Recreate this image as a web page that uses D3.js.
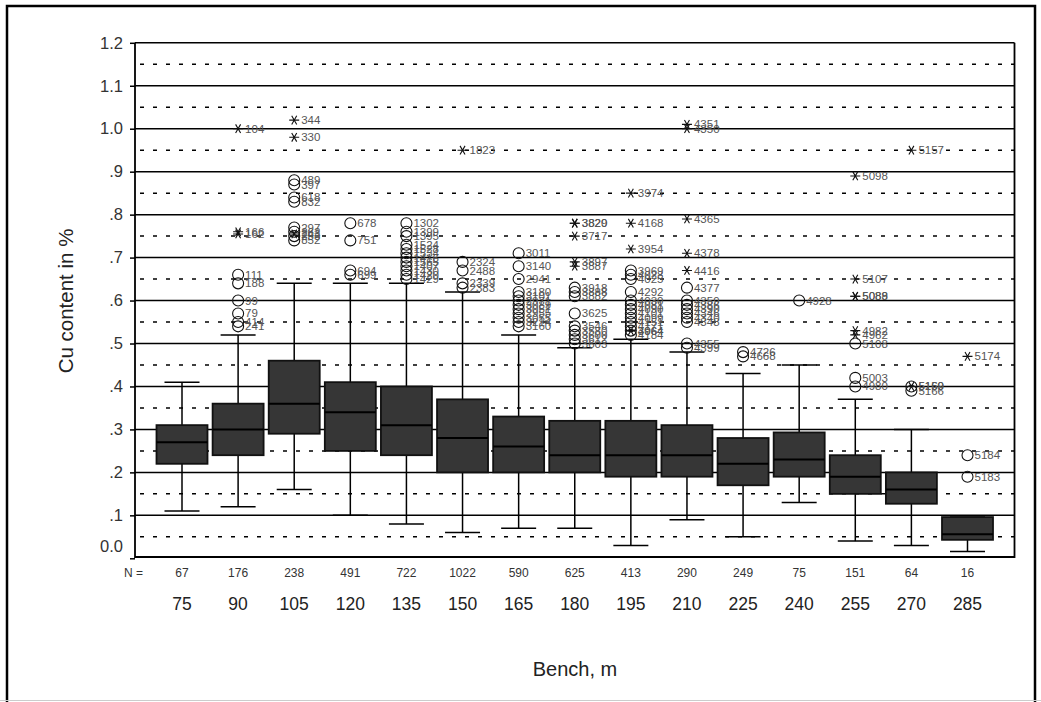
<!DOCTYPE html>
<html>
<head>
<meta charset="utf-8">
<script src="https://cdn.jsdelivr.net/npm/d3@7"></script>
<style>
  body { margin: 0; background: #fff; }
  text { font-family: "Liberation Sans", Arial, sans-serif; }
</style>
</head>
<body>
<div id="container"></div>
<script>
/* DATA */
const benches     = [75, 90, 105, 120, 135, 150, 165, 180, 195, 210, 225, 240, 255, 270, 285];
const counts      = [67, 176, 238, 491, 722, 1022, 590, 625, 413, 290, 249, 75, 151, 64, 16];
const whiskerLow  = [0.11, 0.12, 0.16, 0.10, 0.08, 0.06, 0.07, 0.07, 0.03, 0.09, 0.05, 0.13, 0.04, 0.03, 0.016];
const quart1      = [0.22, 0.24, 0.29, 0.25, 0.24, 0.20, 0.20, 0.20, 0.19, 0.19, 0.17, 0.19, 0.15, 0.127, 0.043];
const medians     = [0.27, 0.30, 0.36, 0.34, 0.31, 0.28, 0.26, 0.24, 0.24, 0.24, 0.22, 0.23, 0.19, 0.16, 0.056];
const quart3      = [0.31, 0.36, 0.46, 0.41, 0.40, 0.37, 0.33, 0.32, 0.32, 0.31, 0.28, 0.293, 0.24, 0.20, 0.096];
const whiskerHigh = [0.41, 0.52, 0.64, 0.64, 0.64, 0.62, 0.52, 0.49, 0.51, 0.48, 0.43, 0.45, 0.37, 0.30, 0.096];

// outliers: [bench, value, case id]
const outlierCircles = [
  [90, 0.66, "111"], [90, 0.64, "188"], [90, 0.60, "99"], [90, 0.57, "79"], [90, 0.55, "414"], [90, 0.54, "241"],
  [105, 0.88, "489"], [105, 0.87, "397"], [105, 0.84, "618"], [105, 0.83, "832"], [105, 0.77, "297"],
  [105, 0.76, "262"], [105, 0.75, "253"], [105, 0.74, "852"],
  [120, 0.78, "678"], [120, 0.74, "751"], [120, 0.67, "694"], [120, 0.66, "699"],
  [135, 0.78, "1302"], [135, 0.76, "1399"], [135, 0.75, "1395"], [135, 0.73, "1524"], [135, 0.72, "1528"],
  [135, 0.71, "1534"], [135, 0.70, "1416"], [135, 0.69, "1565"], [135, 0.68, "1407"], [135, 0.67, "1430"],
  [135, 0.66, "1420"], [135, 0.65, "1429"],
  [150, 0.69, "2324"], [150, 0.67, "2488"], [150, 0.64, "2339"], [150, 0.63, "2383"],
  [165, 0.71, "3011"], [165, 0.68, "3140"], [165, 0.65, "2941"], [165, 0.62, "3180"], [165, 0.61, "3101"],
  [165, 0.60, "2971"], [165, 0.59, "3089"], [165, 0.58, "3051"], [165, 0.57, "2955"], [165, 0.56, "3055"],
  [165, 0.55, "3214"], [165, 0.54, "3160"],
  [180, 0.63, "3918"], [180, 0.62, "3888"], [180, 0.61, "3882"], [180, 0.57, "3625"], [180, 0.54, "3546"],
  [180, 0.53, "3580"], [180, 0.52, "3600"], [180, 0.51, "3612"], [180, 0.50, "3603"],
  [195, 0.67, "3969"], [195, 0.66, "4023"], [195, 0.65, "4025"], [195, 0.62, "4292"], [195, 0.60, "4030"],
  [195, 0.59, "4081"], [195, 0.58, "4090"], [195, 0.57, "4101"], [195, 0.56, "4099"], [195, 0.55, "4151"],
  [195, 0.54, "4171"], [195, 0.53, "4064"], [195, 0.52, "4184"],
  [210, 0.63, "4377"], [210, 0.60, "4359"], [210, 0.59, "4386"], [210, 0.58, "4390"], [210, 0.57, "4346"],
  [210, 0.56, "4340"], [210, 0.55, "4348"], [210, 0.50, "4355"], [210, 0.49, "4399"],
  [225, 0.48, "4726"], [225, 0.47, "4668"],
  [240, 0.60, "4928"],
  [255, 0.50, "5108"], [255, 0.42, "5003"], [255, 0.40, "4980"],
  [270, 0.40, "5159"], [270, 0.39, "5166"],
  [285, 0.24, "5184"], [285, 0.19, "5183"]
];

const extremeStars = [
  [90, 1.00, "104"], [90, 0.76, "166"], [90, 0.755, "162"],
  [105, 1.02, "344"], [105, 0.98, "330"], [105, 0.755, "243"],
  [150, 0.95, "1823"],
  [180, 0.78, "3829"], [180, 0.78, "3820"], [180, 0.75, "3717"], [180, 0.69, "3897"], [180, 0.68, "3887"],
  [195, 0.85, "3974"], [195, 0.78, "4168"], [195, 0.72, "3954"], [195, 0.53, "3964"],
  [210, 1.01, "4351"], [210, 1.00, "4350"], [210, 0.79, "4365"], [210, 0.71, "4378"], [210, 0.67, "4416"],
  [255, 0.89, "5098"], [255, 0.65, "5107"], [255, 0.61, "5089"], [255, 0.61, "5088"],
  [255, 0.53, "4982"], [255, 0.52, "4962"],
  [270, 0.95, "5157"], [270, 0.40, "5160"],
  [285, 0.47, "5174"]
];

const majorTicks = [0, 0.1, 0.2, 0.3, 0.4, 0.5, 0.6, 0.7, 0.8, 0.9, 1.0, 1.1, 1.2];
const minorTicks = [0.05, 0.15, 0.25, 0.35, 0.45, 0.55, 0.65, 0.75, 0.85, 0.95, 1.05, 1.15];

/* CONSTANTS */
const width = 1041,
      height = 702,
      plot = {left: 135, right: 1014.5, top: 42.8, bottom: 557},
      boxW = 51,
      capW = 35;

const svg = d3.select("#container")
  .append("svg")
  .attr("width", width)
  .attr("height", height);

// SCALES
const xScale = d3.scalePoint()
  .domain(benches)
  .range([plot.left + 47, plot.right - 47]);

const yScale = d3.scaleLinear()
  .domain([0, 1.2])
  .range([558.3, plot.top]);

// OUTER FRAME
svg.append("rect")
  .attr("x", 7).attr("y", 6)
  .attr("width", 1028).attr("height", 720)
  .attr("fill", "none")
  .attr("stroke", "#000")
  .attr("stroke-width", 2.5);

svg.append("line")
  .attr("x1", 0).attr("x2", width)
  .attr("y1", 700.5).attr("y2", 700.5)
  .attr("stroke", "#ccc");

// GRID LINES
svg.append("g")
  .selectAll("line")
  .data(minorTicks)
  .join("line")
  .attr("x1", plot.left + 5).attr("x2", plot.right)
  .attr("y1", d => yScale(d)).attr("y2", d => yScale(d))
  .attr("stroke", "#000")
  .attr("stroke-width", 1.5)
  .attr("stroke-dasharray", "4,9");

svg.append("g")
  .selectAll("line")
  .data(majorTicks.filter(d => d > 0))
  .join("line")
  .attr("x1", plot.left).attr("x2", plot.right)
  .attr("y1", d => yScale(d)).attr("y2", d => yScale(d))
  .attr("stroke", "#000")
  .attr("stroke-width", 1.5);

// BOXES
const stats = benches.map((b, i) => ({
  bench: b, lo: whiskerLow[i], q1: quart1[i], med: medians[i], q3: quart3[i], hi: whiskerHigh[i]
}));

const g = svg.append("g")
  .selectAll("g")
  .data(stats)
  .join("g")
  .attr("transform", d => `translate(${xScale(d.bench)},0)`);

g.append("line")
  .attr("y1", d => yScale(d.lo)).attr("y2", d => yScale(d.hi))
  .attr("stroke", "#000").attr("stroke-width", 1.5);

g.append("line")
  .attr("x1", -capW / 2).attr("x2", capW / 2)
  .attr("y1", d => yScale(d.lo)).attr("y2", d => yScale(d.lo))
  .attr("stroke", "#000").attr("stroke-width", 1.5);

g.append("line")
  .attr("x1", -capW / 2).attr("x2", capW / 2)
  .attr("y1", d => yScale(d.hi)).attr("y2", d => yScale(d.hi))
  .attr("stroke", "#000").attr("stroke-width", 1.5);

g.append("rect")
  .attr("x", -boxW / 2)
  .attr("width", boxW)
  .attr("y", d => yScale(d.q3))
  .attr("height", d => yScale(d.q1) - yScale(d.q3))
  .attr("fill", "#363636")
  .attr("stroke", "#111")
  .attr("stroke-width", 1.8);

g.append("line")
  .attr("x1", -boxW / 2).attr("x2", boxW / 2)
  .attr("y1", d => yScale(d.med)).attr("y2", d => yScale(d.med))
  .attr("stroke", "#000").attr("stroke-width", 2);

// OUTLIERS
svg.append("g")
  .selectAll("circle")
  .data(outlierCircles)
  .join("circle")
  .attr("cx", d => xScale(d[0]))
  .attr("cy", d => yScale(d[1]))
  .attr("r", 5.5)
  .attr("fill", "none")
  .attr("stroke", "#111")
  .attr("stroke-width", 1.1);

const star = d3.symbol().type(d3.symbolAsterisk).size(70);
svg.append("g")
  .selectAll("path")
  .data(extremeStars)
  .join("path")
  .attr("transform", d => `translate(${xScale(d[0])},${yScale(d[1])}) rotate(90)`)
  .attr("d", star)
  .attr("fill", "none")
  .attr("stroke", "#111")
  .attr("stroke-width", 1.1);

// case labels overlap in the original too
svg.append("g")
  .selectAll("text")
  .data(outlierCircles.concat(extremeStars))
  .join("text")
  .attr("x", d => xScale(d[0]) + 7)
  .attr("y", d => yScale(d[1]))
  .attr("dy", "0.35em")
  .attr("font-size", 11.5)
  .attr("fill", "#555")
  .text(d => d[2]);

// AXES
const yAxis = d3.axisLeft(yScale)
  .tickValues(majorTicks)
  .tickSize(5)
  .tickPadding(7)
  .tickFormat(d => d === 0 ? "0.0" : d >= 1 ? d3.format(".1f")(d) : d3.format(".1f")(d).replace(/^0/, ""));

const yAxisG = svg.append("g")
  .attr("transform", `translate(${plot.left},0)`)
  .call(yAxis);

yAxisG.select(".domain").remove();
yAxisG.selectAll(".tick line").attr("stroke", "#000").attr("stroke-width", 1.5);
yAxisG.selectAll(".tick text")
  .attr("font-size", 16.5)
  .attr("font-family", "Liberation Sans, Arial, sans-serif")
  .attr("fill", "#333");
yAxisG.selectAll(".tick").filter(d => d === 0).select("text").attr("y", -12);

// plot frame
svg.append("path")
  .attr("d", `M${plot.left},${plot.top}V${plot.bottom}H${plot.right}V${plot.top}`)
  .attr("fill", "none")
  .attr("stroke", "#000")
  .attr("stroke-width", 1.8);

// N row and bench labels
svg.append("text")
  .attr("x", 124).attr("y", 573)
  .attr("dy", "0.35em")
  .attr("font-size", 12)
  .attr("fill", "#333")
  .text("N =");

svg.append("g")
  .selectAll("text")
  .data(benches)
  .join("text")
  .attr("x", d => xScale(d))
  .attr("y", 573)
  .attr("dy", "0.35em")
  .attr("text-anchor", "middle")
  .attr("font-size", 12)
  .attr("fill", "#333")
  .text((d, i) => counts[i]);

svg.append("g")
  .selectAll("text")
  .data(benches)
  .join("text")
  .attr("x", d => xScale(d))
  .attr("y", 604)
  .attr("dy", "0.35em")
  .attr("text-anchor", "middle")
  .attr("font-size", 17.5)
  .attr("fill", "#222")
  .text(d => d);

// AXIS TITLES
svg.append("text")
  .attr("x", 575).attr("y", 669)
  .attr("dy", "0.35em")
  .attr("text-anchor", "middle")
  .attr("font-size", 20)
  .attr("fill", "#222")
  .text("Bench, m");

svg.append("text")
  .attr("transform", "translate(66,301) rotate(-90)")
  .attr("dy", "0.35em")
  .attr("text-anchor", "middle")
  .attr("font-size", 20.5)
  .attr("fill", "#222")
  .text("Cu content in %");
</script>
</body>
</html>
